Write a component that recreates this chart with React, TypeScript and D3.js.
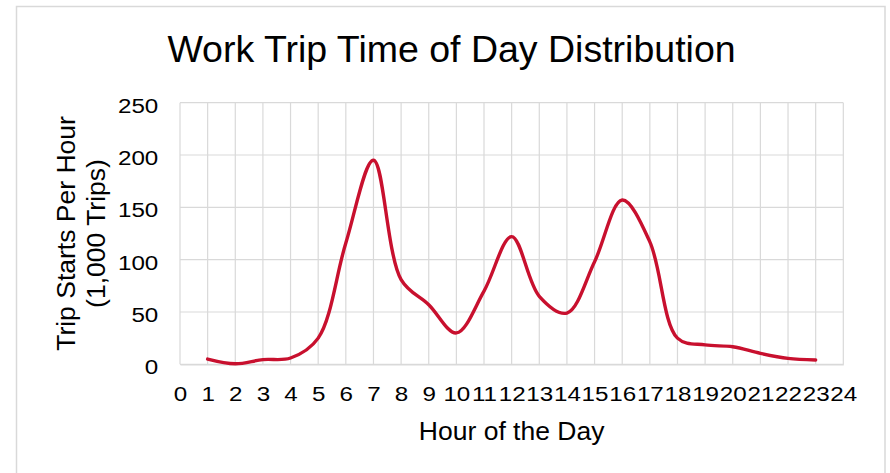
import { useEffect, useRef } from "react";
import * as d3 from "d3";

// hourly work trip starts, thousands
const hours = [1, 2, 3, 4, 5, 6, 7, 8, 9, 10, 11, 12, 13, 14, 15, 16, 17, 18, 19, 20, 21, 22, 23];
const tripStarts = [5, 0.5, 4.5, 6, 25, 116, 195, 81, 57, 30, 70, 122, 65, 49, 98, 157, 117, 25, 18.5, 16.8, 10.5, 5.7, 4.1];
const xTicks = d3.range(0, 25);
const yTicks = [0, 50, 100, 150, 200, 250];

const W = 890;
const H = 473;
const FONT = "'Liberation Sans', Arial, sans-serif";
const GRID = "#d9d9d9";
const LINE = "#c8102e";
const STRETCH = 1.18; // tick labels are drawn a bit wide in the original

export default function App() {
  const ref = useRef<SVGSVGElement>(null);

  useEffect(() => {
    const svg = d3.select(ref.current);
    svg.selectAll("*").remove();

    const x = d3.scaleLinear().domain([0, 24]).range([180, 843.3]);
    const y = d3.scaleLinear().domain([0, 250]).range([364.3, 102.7]);

    // chart frame
    svg.append("rect")
      .attr("x", 16.5).attr("y", 6.5)
      .attr("width", 868.5).attr("height", H + 10)
      .attr("fill", "#fff").attr("stroke", GRID).attr("stroke-width", 1.5);

    // title
    svg.append("text")
      .attr("x", 451.5).attr("y", 62)
      .attr("text-anchor", "middle")
      .attr("font-family", FONT).attr("font-size", 37.5)
      .attr("fill", "#000")
      .text("Work Trip Time of Day Distribution");

    // gridlines
    const grid = svg.append("g").attr("stroke", GRID).attr("stroke-width", 1.2);
    grid.selectAll("line.h").data(yTicks).join("line")
      .attr("class", "h")
      .attr("x1", x(0)).attr("x2", x(24))
      .attr("y1", d => y(d)).attr("y2", d => y(d));
    grid.selectAll("line.v").data(xTicks).join("line")
      .attr("class", "v")
      .attr("x1", d => x(d)).attr("x2", d => x(d))
      .attr("y1", y(250)).attr("y2", y(0));

    // x axis labels
    const xAxis = svg.append("g")
      .attr("transform", `translate(0,${y(0)})`)
      .call(d3.axisBottom(x).tickValues(xTicks).tickFormat(d3.format("d")).tickSize(0));
    xAxis.select(".domain").attr("stroke", GRID).attr("stroke-width", 1.5);
    xAxis.selectAll("text")
      .attr("font-family", FONT).attr("font-size", 20.5).attr("fill", "#000")
      .attr("y", 36.7).attr("dy", 0)
      .attr("transform", `scale(${STRETCH},1)`);

    // y axis labels
    const yAxis = svg.append("g")
      .attr("transform", `translate(${x(0)},0)`)
      .call(d3.axisLeft(y).tickValues(yTicks).tickSize(0));
    yAxis.select(".domain").remove();
    yAxis.selectAll("text")
      .attr("font-family", FONT).attr("font-size", 20.5).attr("fill", "#000")
      .attr("x", -21.7 / STRETCH).attr("y", 9.6).attr("dy", 0)
      .attr("transform", `scale(${STRETCH},1)`);

    // axis titles
    svg.append("text")
      .attr("x", (x(0) + x(24)) / 2).attr("y", 439.5)
      .attr("text-anchor", "middle")
      .attr("font-family", FONT).attr("font-size", 26.5).attr("fill", "#000")
      .text("Hour of the Day");

    const yt = svg.append("text")
      .attr("transform", `translate(75,${(y(0) + y(250)) / 2}) rotate(-90)`)
      .attr("text-anchor", "middle")
      .attr("font-family", FONT).attr("font-size", 26.5).attr("fill", "#000");
    yt.append("tspan").attr("x", 0).attr("y", 0).text("Trip Starts Per Hour");
    yt.append("tspan").attr("x", 0).attr("y", 30).text("(1,000 Trips)");

    // smoothed series
    const line = d3.line<number>()
      .x((_, i) => x(hours[i]))
      .y(d => y(d))
      .curve(d3.curveCatmullRom.alpha(0.5));
    svg.append("path")
      .datum(tripStarts)
      .attr("d", line)
      .attr("fill", "none")
      .attr("stroke", LINE)
      .attr("stroke-width", 3.4)
      .attr("stroke-linecap", "round")
      .attr("stroke-linejoin", "round");
  }, []);

  return (
    <div style={{ position: "absolute", left: 0, top: 0 }}>
      <svg ref={ref} width={W} height={H} style={{ display: "block", background: "#fff" }} />
    </div>
  );
}
